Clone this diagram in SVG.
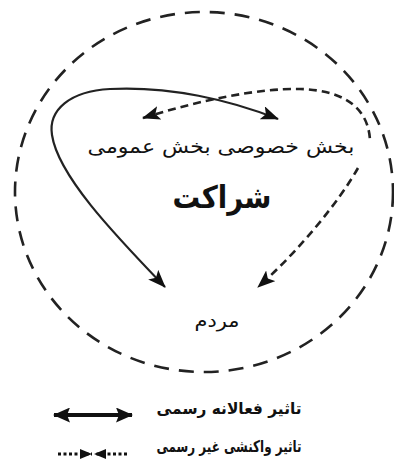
<svg xmlns="http://www.w3.org/2000/svg" width="394" height="459" viewBox="0 0 394 459">
<style>
.t{font-family:"DejaVu Sans","Noto Sans",sans-serif;fill:#111;text-anchor:middle}
.solid{fill:none;stroke:#222;stroke-width:2.2}
.dash{fill:none;stroke:#222;stroke-width:2.6;stroke-dasharray:8 5}
</style>
<defs>
<marker id="ah" viewBox="0 0 18 14" refX="17" refY="7" markerWidth="18" markerHeight="14" markerUnits="userSpaceOnUse" orient="auto-start-reverse">
<path d="M0,0 L18,7 L0,14 L4,7 z" fill="#111"/>
</marker>
<marker id="ahs" viewBox="0 0 12 10" refX="12" refY="5" markerWidth="12" markerHeight="10" markerUnits="userSpaceOnUse" orient="auto-start-reverse">
<path d="M0,0 L12,5 L0,10 z" fill="#111"/>
</marker>
<marker id="ahl" viewBox="0 0 17 15" refX="16" refY="7.5" markerWidth="17" markerHeight="15" markerUnits="userSpaceOnUse" orient="auto-start-reverse">
<path d="M0,0 L17,7.5 L0,15 L3,7.5 z" fill="#111"/>
</marker>
</defs>
<rect width="394" height="459" fill="#fff"/>
<g id="boundary">
<ellipse cx="204" cy="192" rx="189" ry="180" fill="none" stroke="#222" stroke-width="2.6" stroke-dasharray="15 10"/>
</g>
<g id="connectors">
<path class="solid" d="M278,119 C230,100 170,86 110,89 C70,91 48,110 52,135 C58,175 112,232 165,287" marker-start="url(#ah)" marker-end="url(#ah)"/>
<path class="dash" d="M143,118 C200,100 260,88 300,89 C340,90 368,105 370,140" marker-start="url(#ah)"/>
<path class="dash" d="M358,168 C340,200 300,250 258,287" marker-end="url(#ah)"/>
</g>
<g id="sectors">
<text class="t" x="221" y="153" font-size="19" textLength="267" lengthAdjust="spacingAndGlyphs">بخش خصوصی  بخش عمومی</text>
</g>
<g id="title">
<text class="t" x="222" y="208" font-size="31" font-weight="bold" textLength="99" lengthAdjust="spacingAndGlyphs">شراکت</text>
</g>
<g id="people">
<text class="t" x="217" y="327" font-size="18" textLength="45" lengthAdjust="spacingAndGlyphs">مردم</text>
</g>
<g id="legend">
<line x1="54" y1="415" x2="132" y2="415" stroke="#111" stroke-width="4" marker-start="url(#ahl)" marker-end="url(#ahl)"/>
<text class="t" x="229" y="414" font-size="16" font-weight="bold" textLength="145" lengthAdjust="spacingAndGlyphs">تاثیر فعالانه رسمی</text>
<line x1="58" y1="454" x2="92" y2="454" stroke="#111" stroke-width="3" stroke-dasharray="3 2.5" marker-end="url(#ahs)"/>
<line x1="127" y1="454" x2="94" y2="454" stroke="#111" stroke-width="3" stroke-dasharray="3 2.5" marker-end="url(#ahs)"/>
<text class="t" x="229" y="452" font-size="16" font-weight="bold" textLength="145" lengthAdjust="spacingAndGlyphs">تاثیر واکنشی غیر رسمی</text>
</g>
</svg>
